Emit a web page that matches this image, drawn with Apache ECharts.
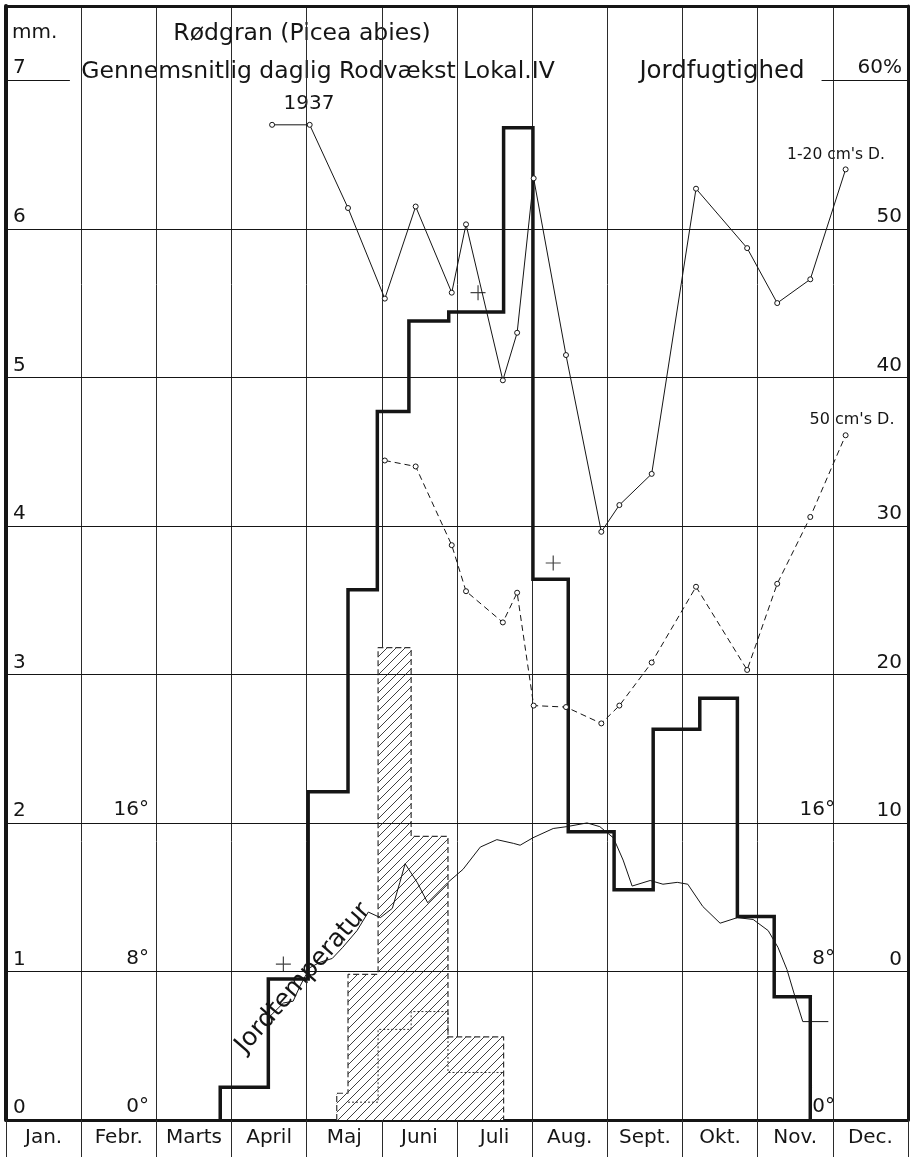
<!DOCTYPE html>
<html>
<head>
<meta charset="utf-8">
<script src="https://cdn.jsdelivr.net/npm/echarts@6/dist/echarts.min.js"></script>
<style>
  html, body { margin: 0; padding: 0; background: #fff; }
  #chart { width: 911px; height: 1157px; }
</style>
</head>
<body>
<div id="chart"></div>
<script>
// Month names on the time axis (x is measured in months, 0 = 1 Jan)
const months = ['Jan.', 'Febr.', 'Marts', 'April', 'Maj', 'Juni', 'Juli', 'Aug.', 'Sept.', 'Okt.', 'Nov.', 'Dec.'];

// Average daily root growth, mm per day, one value per measuring period
const rootEdges  = [2.85, 3.49, 4.02, 4.55, 4.94, 5.36, 5.89, 6.62, 7.01, 7.48, 8.09, 8.61, 9.23, 9.73, 10.22, 10.70];
const rootGrowth = [0.22, 0.95, 2.21, 3.57, 4.77, 5.38, 5.44, 6.68, 3.64, 1.94, 1.55, 2.63, 2.84, 1.37, 0.83];

// Shoot growth (hatched blocks) and the dotted inner step
const shootEdges  = [4.40, 4.55, 4.95, 5.39, 5.88, 6.62];
const shootGrowth = [0.18, 0.98, 3.18, 1.91, 0.56];
const innerEdges  = [4.55, 4.95, 5.39, 5.88, 6.62];
const innerGrowth = [0.12, 0.61, 0.73, 0.32];

// Soil temperature, degrees C
const tempDates  = [3.49, 3.69, 3.82, 3.91, 4.04, 4.18, 4.34, 4.48, 4.67, 4.82, 4.98, 5.14, 5.24, 5.31, 5.47,
                    5.61, 5.88, 6.08, 6.31, 6.53, 6.75, 6.84, 7.01, 7.28, 7.46, 7.73, 7.90, 8.08, 8.21, 8.33,
                    8.57, 8.74, 8.93, 9.07, 9.27, 9.50, 9.73, 9.94, 10.14, 10.27, 10.39, 10.50, 10.60, 10.94];
const tempValues = [5.5, 6.3, 6.4, 7.2, 8.2, 8.5, 8.7, 9.3, 10.2, 11.2, 10.9, 11.4, 12.8, 13.8, 12.8,
                    11.7, 12.8, 13.5, 14.7, 15.1, 14.9, 14.8, 15.2, 15.7, 15.8, 16.0, 15.8, 15.2, 14.0, 12.6,
                    12.9, 12.7, 12.8, 12.7, 11.5, 10.6, 10.9, 10.8, 10.2, 9.3, 8.1, 6.6, 5.3, 5.3];

// Soil moisture, percent, at 1-20 cm and 50 cm depth
const moistDates = [3.54, 4.04, 4.55, 5.04, 5.45, 5.93, 6.12, 6.61, 6.80, 7.02, 7.45, 7.92, 8.16, 8.59, 9.18, 9.86, 10.26, 10.70, 11.17];
const moist1to20 = [57.0, 57.0, 51.4, 45.3, 51.5, 45.7, 50.3, 39.8, 43.0, 53.4, 41.5, 29.6, 31.4, 33.5, 52.7, 48.7, 45.0, 46.6, 54.0];
const moist50    = [null, null, null, 34.4, 34.0, 28.7, 25.6, 23.5, 25.5, 17.9, 17.8, 16.7, 17.9, 20.8, 25.9, 20.3, 26.1, 30.6, 36.1];

// Cross marks (month, mm)
const crossDates  = [3.69, 6.28, 7.28];
const crossValues = [1.05, 5.57, 3.75];

// Horizontal rulings on the mm scale
const gridLevels = [1, 2, 3, 4, 5, 6];

const FONT = '"DejaVu Sans", sans-serif';
const INK = '#151515';

function stairs(edges, vals, closeStart, closeEnd) {
  const pts = [];
  if (closeStart) pts.push([edges[0], 0]);
  vals.forEach((v, i) => { pts.push([edges[i], v]); pts.push([edges[i + 1], v]); });
  if (closeEnd) pts.push([edges[edges.length - 1], 0]);
  return pts;
}

function hatchCanvas() {
  const s = 9;
  const c = document.createElement('canvas');
  c.width = s; c.height = s;
  const g = c.getContext('2d');
  g.fillStyle = '#fff';
  g.fillRect(0, 0, s, s);
  g.strokeStyle = '#2a2a2a';
  g.lineWidth = 0.9;
  g.beginPath();
  g.moveTo(0, s); g.lineTo(s, 0);
  g.moveTo(-s / 2, s / 2); g.lineTo(s / 2, -s / 2);
  g.moveTo(s / 2, s * 1.5); g.lineTo(s * 1.5, s / 2);
  g.stroke();
  return c;
}

const zip = (xs, ys) => xs.map((x, i) => [x, ys[i]]);

const chart = echarts.init(document.getElementById('chart'), null, { renderer: 'canvas' });

const hiddenAxisParts = {
  axisLine: { show: false }, axisTick: { show: false }, splitLine: { show: false }
};

const option = {
  animation: false,
  backgroundColor: '#fff',
  grid: { left: 6, right: 3, top: 6, bottom: 37, containLabel: false, outerBoundsMode: 'none' },
  xAxis: [
    {
      type: 'value', min: 0, max: 12, interval: 1, position: 'bottom',
      axisLine: { show: true, onZero: false, lineStyle: { color: INK, width: 3 } },
      axisTick: { show: false }, axisLabel: { show: false },
      splitLine: { show: true, lineStyle: { color: '#2b2b2b', width: 1 } }
    },
    {
      type: 'category', data: months, position: 'bottom', boundaryGap: true,
      axisLine: { show: false },
      axisTick: { show: true, interval: 0, length: 37, lineStyle: { color: '#2b2b2b', width: 1 } },
      axisLabel: { interval: 0, margin: 8, fontSize: 20, color: INK, fontFamily: FONT },
      splitLine: { show: false }
    },
    {
      type: 'value', min: 0, max: 12, position: 'top',
      axisLine: { show: true, onZero: false, lineStyle: { color: INK, width: 3 } },
      axisTick: { show: false }, axisLabel: { show: false }, splitLine: { show: false }
    }
  ],
  yAxis: [
    {
      type: 'value', min: 0, max: 7.5, interval: 1, position: 'left',
      axisLine: { show: true, onZero: false, lineStyle: { color: INK, width: 4 } },
      axisTick: { show: false }, splitLine: { show: false },
      axisLabel: {
        inside: true, margin: 7, verticalAlign: 'bottom', padding: [0, 0, 2, 0],
        fontSize: 20, color: INK, fontFamily: FONT,
        formatter: v => (v > 7 ? '' : String(v))
      }
    },
    {
      type: 'value', min: -10, max: 65, interval: 10, position: 'right',
      axisLine: { show: true, onZero: false, lineStyle: { color: INK, width: 3 } },
      axisTick: { show: false }, splitLine: { show: false },
      axisLabel: {
        inside: true, margin: 6, verticalAlign: 'bottom', padding: [0, 0, 2, 0],
        fontSize: 20, color: INK, fontFamily: FONT,
        formatter: v => (v < 0 || v > 60 ? '' : (v === 60 ? '60%' : String(v)))
      }
    },
    Object.assign({
      type: 'value', min: 0, max: 60, interval: 8, position: 'left', offset: -146,
      axisLabel: {
        margin: 3, verticalAlign: 'bottom', padding: [0, 0, 3, 0],
        fontSize: 20, color: INK, fontFamily: FONT,
        formatter: v => (v <= 16 ? v + '°' : '')
      }
    }, hiddenAxisParts),
    Object.assign({
      type: 'value', min: 0, max: 60, interval: 8, position: 'left', offset: -830,
      axisLabel: {
        margin: 1, verticalAlign: 'bottom', padding: [0, 0, 3, 0],
        fontSize: 20, color: INK, fontFamily: FONT,
        formatter: v => (v <= 16 ? v + '°' : '')
      }
    }, hiddenAxisParts)
  ],
  series: [
    {
      name: 'Skudvækst', type: 'line', xAxisIndex: 0, yAxisIndex: 0,
      data: stairs(shootEdges, shootGrowth, true, true),
      symbol: 'none', z: 2,
      lineStyle: { color: '#333', width: 1.2, type: [6, 3] },
      areaStyle: { color: { image: hatchCanvas(), repeat: 'repeat' }, opacity: 1 }
    },
    {
      name: 'Skudvækst indre', type: 'line', xAxisIndex: 0, yAxisIndex: 0,
      data: stairs(innerEdges, innerGrowth, false, false),
      symbol: 'none', z: 3,
      lineStyle: { color: '#333', width: 1, type: [2, 2] }
    },
    {
      name: 'Rodvækst', type: 'line', xAxisIndex: 0, yAxisIndex: 0,
      data: stairs(rootEdges, rootGrowth, true, true),
      symbol: 'none', z: 5,
      lineStyle: { color: INK, width: 3.5, join: 'miter' },
      markLine: {
        silent: true, symbol: 'none', label: { show: false },
        lineStyle: { color: INK, width: 1.2, type: 'solid' },
        emphasis: { disabled: true },
        data: gridLevels.map(v => ({ yAxis: v })).concat([
          [{ coord: [0, 7] }, { coord: [0.85, 7] }],
          [{ coord: [10.85, 7] }, { coord: [12, 7] }]
        ])
      }
    },
    {
      name: 'Jordtemperatur', type: 'line', xAxisIndex: 0, yAxisIndex: 2,
      data: zip(tempDates, tempValues),
      symbol: 'none', z: 4,
      lineStyle: { color: INK, width: 1 }
    },
    {
      name: '1-20 cm\'s D.', type: 'line', xAxisIndex: 0, yAxisIndex: 1,
      data: zip(moistDates, moist1to20),
      symbol: 'circle', symbolSize: 5, showSymbol: true, z: 6,
      itemStyle: { color: '#fff', borderColor: INK, borderWidth: 1 },
      lineStyle: { color: INK, width: 1 }
    },
    {
      name: '50 cm\'s D.', type: 'line', xAxisIndex: 0, yAxisIndex: 1,
      data: zip(moistDates, moist50),
      symbol: 'circle', symbolSize: 5, showSymbol: true, connectNulls: false, z: 6,
      itemStyle: { color: '#fff', borderColor: INK, borderWidth: 1 },
      lineStyle: { color: INK, width: 1, type: [6, 4] }
    },
    {
      name: 'kryds', type: 'scatter', xAxisIndex: 0, yAxisIndex: 0,
      data: zip(crossDates, crossValues),
      symbol: 'path://M-0.08,-1L0.08,-1L0.08,-0.08L1,-0.08L1,0.08L0.08,0.08L0.08,1L-0.08,1L-0.08,0.08L-1,0.08L-1,-0.08L-0.08,-0.08Z',
      symbolSize: 15, z: 7,
      itemStyle: { color: INK }
    }
  ],
  graphic: [
    { type: 'text', x: 12, y: 33, style: { text: 'mm.', font: '20px ' + FONT, fill: INK, align: 'left', verticalAlign: 'middle' } },
    { type: 'text', x: 302, y: 34, style: { text: 'Rødgran (Picea abies)', font: '23.5px ' + FONT, fill: INK, align: 'center', verticalAlign: 'middle' } },
    { type: 'text', x: 318, y: 72, style: { text: 'Gennemsnitlig daglig Rodvækst Lokal.IV', font: '23.5px ' + FONT, fill: INK, align: 'center', verticalAlign: 'middle' } },
    { type: 'text', x: 722, y: 72, style: { text: 'Jordfugtighed', font: '24.5px ' + FONT, fill: INK, align: 'center', verticalAlign: 'middle' } },
    { type: 'text', x: 309, y: 104, style: { text: '1937', font: '20px ' + FONT, fill: INK, align: 'center', verticalAlign: 'middle' } },
    { type: 'text', x: 836, y: 155, style: { text: '1-20 cm\'s D.', font: '15.5px ' + FONT, fill: INK, align: 'center', verticalAlign: 'middle' } },
    { type: 'text', x: 852, y: 420, style: { text: '50 cm\'s D.', font: '16px ' + FONT, fill: INK, align: 'center', verticalAlign: 'middle' } },
    { type: 'text', x: 303, y: 978, rotation: 0.85, style: { text: 'Jordtemperatur', font: '25px ' + FONT, fill: INK, align: 'center', verticalAlign: 'middle' } }
  ]
};

chart.setOption(option);
</script>
</body>
</html>
